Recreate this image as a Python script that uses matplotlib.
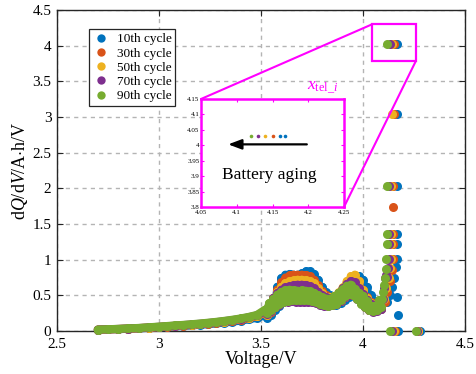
import matplotlib
matplotlib.use('Agg')
import matplotlib.pyplot as plt
from matplotlib.patches import Rectangle, ConnectionPatch
from matplotlib.lines import Line2D
from matplotlib.ticker import FuncFormatter

plt.rcParams['font.family'] = ['Liberation Serif', 'DejaVu Serif']
plt.rcParams['mathtext.fontset'] = 'custom'
plt.rcParams['mathtext.rm'] = 'Liberation Serif'
plt.rcParams['mathtext.it'] = 'Liberation Serif:italic'

# ---------------- data ----------------
labels = ['10th cycle', '30th cycle', '50th cycle', '70th cycle', '90th cycle']
colors = ['#0072BD', '#D95319', '#EDB120', '#7E2F8E', '#77AC30']

v_tail = [2.70, 2.75, 2.80, 2.85, 2.90, 2.95, 3.00, 3.04, 3.08, 3.12, 3.16,
          3.20, 3.24, 3.28, 3.32, 3.36, 3.40, 3.44, 3.48]
v_peak = [3.52, 3.53, 3.54, 3.55, 3.56, 3.57, 3.58, 3.59, 3.60, 3.61, 3.62,
          3.63, 3.64, 3.65, 3.66, 3.67, 3.68, 3.69, 3.70, 3.71, 3.72, 3.73,
          3.74, 3.75, 3.76, 3.77, 3.78, 3.79, 3.80, 3.81, 3.82, 3.83, 3.84,
          3.85, 3.86, 3.87, 3.88, 3.89, 3.90, 3.91, 3.92, 3.93, 3.94, 3.95,
          3.96, 3.97, 3.98, 3.99, 4.00, 4.01, 4.02, 4.03, 4.04, 4.05, 4.06,
          4.07, 4.08, 4.09]

tail_10 = [0.018, 0.022, 0.026, 0.031, 0.037, 0.044, 0.052, 0.058, 0.064, 0.071, 0.079,
           0.087, 0.096, 0.106, 0.118, 0.131, 0.146, 0.164, 0.186]
tail_30 = [0.019, 0.023, 0.027, 0.032, 0.039, 0.046, 0.055, 0.062, 0.070, 0.077, 0.085,
           0.094, 0.104, 0.116, 0.129, 0.144, 0.161, 0.182, 0.208]
tail_50 = [0.019, 0.023, 0.028, 0.033, 0.040, 0.048, 0.057, 0.065, 0.072, 0.080, 0.088,
           0.098, 0.108, 0.120, 0.133, 0.148, 0.166, 0.188, 0.215]
tail_70 = [0.020, 0.024, 0.029, 0.035, 0.041, 0.050, 0.059, 0.067, 0.075, 0.083, 0.092,
           0.101, 0.112, 0.124, 0.138, 0.153, 0.171, 0.193, 0.220]
tail_90 = [0.020, 0.025, 0.030, 0.036, 0.043, 0.052, 0.062, 0.070, 0.078, 0.086, 0.095,
           0.105, 0.116, 0.128, 0.142, 0.158, 0.176, 0.198, 0.225]

peak_10 = [0.22, 0.18, 0.32, 0.23, 0.46, 0.29, 0.62, 0.35, 0.74, 0.40, 0.79, 0.43,
           0.80, 0.45, 0.79, 0.46, 0.79, 0.46, 0.81, 0.46, 0.835, 0.46, 0.835, 0.46,
           0.80, 0.45, 0.72, 0.43, 0.62, 0.40, 0.54, 0.38, 0.50, 0.37, 0.49, 0.37,
           0.51, 0.39, 0.55, 0.43, 0.61, 0.48, 0.68, 0.52, 0.74, 0.53, 0.765, 0.50,
           0.72, 0.44, 0.62, 0.38, 0.50, 0.33, 0.42, 0.31, 0.40, 0.31]
peak_30 = [0.26, 0.22, 0.36, 0.27, 0.46, 0.33, 0.58, 0.38, 0.68, 0.42, 0.75, 0.44,
           0.78, 0.45, 0.79, 0.45, 0.79, 0.45, 0.79, 0.45, 0.785, 0.45, 0.77, 0.44,
           0.72, 0.42, 0.64, 0.40, 0.56, 0.37, 0.50, 0.36, 0.48, 0.36, 0.49, 0.38,
           0.53, 0.42, 0.59, 0.47, 0.66, 0.51, 0.72, 0.51, 0.75, 0.47, 0.70, 0.41,
           0.58, 0.35, 0.47, 0.30, 0.40, 0.28, 0.38, 0.29, 0.42, 0.31]
peak_50 = [0.27, 0.23, 0.37, 0.28, 0.46, 0.33, 0.55, 0.38, 0.62, 0.41, 0.67, 0.43,
           0.70, 0.44, 0.71, 0.44, 0.72, 0.44, 0.72, 0.44, 0.71, 0.44, 0.70, 0.43,
           0.67, 0.41, 0.60, 0.39, 0.53, 0.37, 0.48, 0.36, 0.47, 0.36, 0.49, 0.38,
           0.54, 0.42, 0.61, 0.48, 0.70, 0.52, 0.77, 0.52, 0.79, 0.47, 0.70, 0.40,
           0.57, 0.34, 0.46, 0.30, 0.39, 0.28, 0.37, 0.29, 0.42, 0.32]
peak_70 = [0.28, 0.24, 0.38, 0.28, 0.46, 0.33, 0.53, 0.37, 0.58, 0.40, 0.61, 0.41,
           0.63, 0.42, 0.645, 0.41, 0.65, 0.40, 0.65, 0.40, 0.645, 0.40, 0.63, 0.40,
           0.60, 0.39, 0.55, 0.37, 0.50, 0.35, 0.47, 0.35, 0.46, 0.36, 0.48, 0.38,
           0.53, 0.42, 0.60, 0.48, 0.66, 0.51, 0.70, 0.50, 0.68, 0.45, 0.60, 0.39,
           0.52, 0.33, 0.44, 0.29, 0.38, 0.27, 0.37, 0.28, 0.42, 0.31]
peak_90 = [0.30, 0.25, 0.39, 0.29, 0.45, 0.33, 0.51, 0.38, 0.55, 0.41, 0.57, 0.425,
           0.58, 0.43, 0.57, 0.43, 0.565, 0.43, 0.57, 0.43, 0.565, 0.43, 0.555, 0.42,
           0.535, 0.405, 0.50, 0.385, 0.475, 0.36, 0.455, 0.355, 0.455, 0.36, 0.485, 0.38,
           0.535, 0.43, 0.585, 0.49, 0.635, 0.52, 0.65, 0.50, 0.595, 0.45, 0.535, 0.385,
           0.495, 0.335, 0.415, 0.30, 0.355, 0.285, 0.355, 0.29, 0.435, 0.33]

spike_v_10 = [4.120, 4.130, 4.140, 4.150, 4.160, 4.168, 4.170, 4.165, 4.165, 4.165,
              4.165, 4.165, 4.160, 4.167, 4.170, 4.278]
spike_y_10 = [0.40, 0.50, 0.62, 0.75, 0.90, 0.48, 0.22, 1.01, 1.22, 1.36,
              2.03, 3.04, 4.03, 4.03, 0.00, 0.00]
spike_v_30 = [4.110, 4.120, 4.130, 4.140, 4.145, 4.147, 4.148, 4.148, 4.149, 4.150,
              4.150, 4.155, 4.270]
spike_y_30 = [0.40, 0.55, 0.70, 0.85, 1.01, 1.22, 1.36, 1.74, 2.03, 3.04,
              4.03, 0.00, 0.00]
spike_v_50 = [4.105, 4.115, 4.125, 4.130, 4.135, 4.137, 4.138, 4.139, 4.140, 4.140,
              4.150, 4.268]
spike_y_50 = [0.45, 0.60, 0.75, 0.88, 1.01, 1.22, 1.36, 2.03, 3.04, 4.03,
              0.00, 0.00]
spike_v_70 = [4.100, 4.105, 4.110, 4.115, 4.120, 4.123, 4.125, 4.127, 4.128, 4.129,
              4.130, 4.140, 4.265]
spike_y_70 = [0.45, 0.60, 0.75, 0.79, 0.76, 0.88, 1.01, 1.22, 1.36, 2.03,
              4.03, 0.00, 0.00]
spike_v_90 = [4.095, 4.100, 4.105, 4.110, 4.113, 4.115, 4.116, 4.117, 4.118, 4.120,
              4.130, 4.260]
spike_y_90 = [0.45, 0.55, 0.65, 0.75, 0.87, 1.01, 1.22, 1.36, 2.03, 4.03,
              0.00, 0.00]

tails = [tail_10, tail_30, tail_50, tail_70, tail_90]
peaks = [peak_10, peak_30, peak_50, peak_70, peak_90]
spikes_v = [spike_v_10, spike_v_30, spike_v_50, spike_v_70, spike_v_90]
spikes_y = [spike_y_10, spike_y_30, spike_y_50, spike_y_70, spike_y_90]

x_ticks = [2.5, 3, 3.5, 4, 4.5]
y_ticks = [0, 0.5, 1, 1.5, 2, 2.5, 3, 3.5, 4, 4.5]
inset_x_ticks = [4.05, 4.1, 4.15, 4.2, 4.25]
inset_y_ticks = [3.8, 3.85, 3.9, 3.95, 4, 4.05, 4.1, 4.15]

# ---------------- figure ----------------
fig = plt.figure(figsize=(4.76, 3.74), dpi=100)
ax = fig.add_axes([57/476, 43/374, 408/476, 321/374])

fmt = FuncFormatter(lambda v, p: '%g' % v)
MS = 6.5
for i in range(5):
    vv = v_tail + v_peak
    yy = tails[i] + peaks[i]
    ax.plot(vv, yy, '-', color=colors[i], lw=MS * 0.9, solid_capstyle='round',
            solid_joinstyle='round', zorder=3 + i, clip_on=False)
    ax.plot(vv, yy, 'o', color=colors[i], ms=MS, mew=0, zorder=3 + i, clip_on=False)
    ax.plot(spikes_v[i], spikes_y[i], 'o', color=colors[i], ms=MS, mew=0,
            zorder=3 + i, clip_on=False)

ax.set_xlim(2.5, 4.5)
ax.set_ylim(0, 4.5)
ax.set_xticks(x_ticks)
ax.set_yticks(y_ticks)
ax.xaxis.set_major_formatter(fmt)
ax.yaxis.set_major_formatter(fmt)
ax.tick_params(direction='in', length=4, width=0.8, labelsize=11, top=True, right=True,
               colors='#262626', labelcolor='black')
ax.tick_params(axis='x', pad=5)
ax.tick_params(axis='y', pad=4)
ax.grid(True, ls=(0, (3, 3)), color='#b4b4b4', lw=1.0)
ax.set_axisbelow(True)
for s in ax.spines.values():
    s.set_color('#262626')
    s.set_linewidth(1.0)
ax.set_xlabel('Voltage/V', fontsize=13, labelpad=0)
ax.set_ylabel(r'd$Q$/d$V$/A$\cdot$h/V', fontsize=13, labelpad=2)

handles = [Line2D([], [], marker='o', ls='none', color=c, ms=6, mew=0) for c in colors]
leg = ax.legend(handles, labels, loc='upper left', bbox_to_anchor=(0.078, 0.94),
                fontsize=9.5, frameon=True, fancybox=False, edgecolor='#262626',
                framealpha=1, handlelength=1.2, handletextpad=0.6, labelspacing=0.15,
                borderpad=0.3, borderaxespad=0)
leg.get_frame().set_linewidth(0.9)
leg.set_zorder(20)

# zoom rectangle
mag = '#FF00FF'
ax.add_patch(Rectangle((4.045, 3.79), 0.215, 0.51, fill=False, ec=mag, lw=1.6,
                       zorder=15, clip_on=False))

# inset
axin = fig.add_axes([201/476, (374-207)/374, 143/476, 108/374])
axin.set_zorder(10)
for i in range(5):
    axin.plot(spikes_v[i], spikes_y[i], 'o', color=colors[i], ms=2.6, mew=0)
axin.set_xlim(4.05, 4.25)
axin.set_ylim(3.8, 4.15)
axin.set_xticks(inset_x_ticks)
axin.set_yticks(inset_y_ticks)
axin.xaxis.set_major_formatter(fmt)
axin.yaxis.set_major_formatter(fmt)
axin.tick_params(direction='in', length=2.5, width=0.8, labelsize=5, pad=1.5,
                 colors=mag, labelcolor='black', top=True, right=True)
axin.tick_params(axis='x', pad=2.5)
axin.tick_params(axis='y', pad=1.2)
for s in axin.spines.values():
    s.set_color(mag)
    s.set_linewidth(1.8)
axin.annotate('', xy=(4.088, 4.003), xytext=(4.198, 4.003),
              arrowprops=dict(arrowstyle='-|>,head_length=0.8,head_width=0.3',
                              color='black', lw=1.6, shrinkA=0, shrinkB=0))
axin.text(4.145, 3.903, 'Battery aging', fontsize=12.5, ha='center', va='center')

# connecting lines
for (xa, ya), (xb, yb) in [((0, 1), (4.045, 4.30)), ((1, 0), (4.26, 3.79))]:
    cp = ConnectionPatch(xyA=(xa, ya), coordsA=axin.transAxes,
                         xyB=(xb, yb), coordsB=ax.transData,
                         color=mag, lw=1.5)
    cp.set_zorder(16)
    fig.add_artist(cp)

fig.text(323/476, 1 - 88/374, r'$x_{\mathrm{tel}\_i}$', color=mag, fontsize=12.5,
         ha='center', va='center')

fig.savefig('out.png', dpi=100)
